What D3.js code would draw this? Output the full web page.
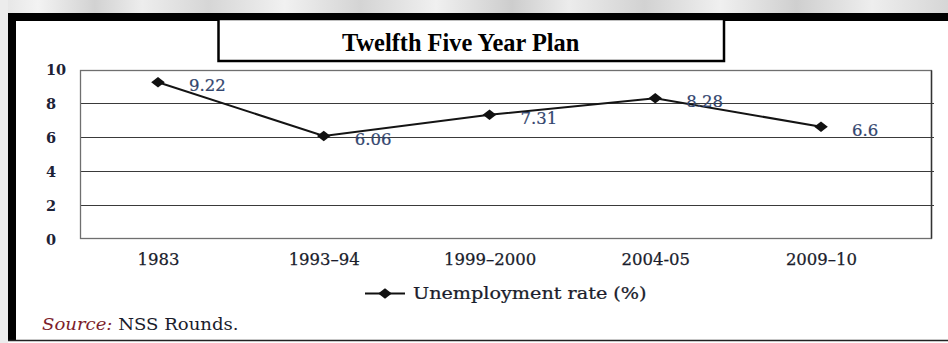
<!DOCTYPE html>
<html>
<head>
<meta charset="utf-8">
<script src="https://cdn.jsdelivr.net/npm/d3@7"></script>
<style>
  html, body { margin: 0; padding: 0; background: #fff; }
  svg { display: block; }
</style>
</head>
<body>
<svg id="chart" width="948" height="343"></svg>
<script>
// Survey rounds and unemployment rate (%)
const categories = ["1983", "1993–94", "1999–2000", "2004-05", "2009–10"];
const unemploymentRate = [9.22, 6.06, 7.31, 8.28, 6.6];
const yTicks = [0, 2, 4, 6, 8, 10];
const titleText = "Twelfth Five Year Plan";
const legendLabel = "Unemployment rate (%)";
const sourceLabel = "Source:";
const sourceText = " NSS Rounds.";

const svg = d3.select("#chart");
const W = 948, H = 343;

// Page decoration: grey scan strip on top / left
const defs = svg.append("defs");
const grad = defs.append("linearGradient").attr("id", "topStrip");
[[0, "#e4e4e4"], [0.04, "#f3f3f3"], [0.1, "#d2d2d2"], [0.15, "#ededed"], [0.22, "#d6d6d6"],
 [0.3, "#f1f1f1"], [0.38, "#d4d4d4"], [0.46, "#f0f0f0"], [0.54, "#cdcdcd"], [0.6, "#ececec"],
 [0.68, "#d2d2d2"], [0.76, "#f0f0f0"], [0.84, "#cfcfcf"], [0.92, "#eeeeee"], [1, "#d6d6d6"]]
  .forEach(([o, c]) => grad.append("stop").attr("offset", o).attr("stop-color", c));

svg.append("rect").attr("x", 0).attr("y", 0).attr("width", W).attr("height", 14)
  .attr("fill", "url(#topStrip)");
svg.append("rect").attr("x", 0).attr("y", 0).attr("width", 8).attr("height", H)
  .attr("fill", "#ececec");

// Heavy outer frame (top + left), thin bottom rule
svg.append("rect").attr("x", 8).attr("y", 13).attr("width", W - 8).attr("height", 8).attr("fill", "#000");
svg.append("rect").attr("x", 8).attr("y", 13).attr("width", 8).attr("height", 328).attr("fill", "#000");
svg.append("line").attr("x1", 8).attr("x2", W).attr("y1", 340.5).attr("y2", 340.5)
  .attr("stroke", "#222").attr("stroke-width", 1.6);

// Title box
svg.append("rect").attr("x", 218.5).attr("y", 19).attr("width", 505.5).attr("height", 42)
  .attr("fill", "#fff").attr("stroke", "#000").attr("stroke-width", 2.5);
svg.append("text").attr("x", 342).attr("y", 51)
  .attr("font-family", "'Liberation Serif', 'Times New Roman', serif")
  .attr("font-weight", "bold").attr("font-size", 24.4).attr("fill", "#000")
  .text(titleText);

// Scales
const plotLeft = 80, plotRight = 931;
const x = d3.scalePoint().domain(categories).range([158, 821]);
const y = d3.scaleLinear().domain([0, 10]).range([239, 69]);

// Gridlines
svg.append("g").selectAll("line").data(yTicks.filter(t => t > 0 && t < 10)).join("line")
  .attr("x1", plotLeft).attr("x2", plotRight + 3)
  .attr("y1", d => Math.round(y(d)) + 0.5).attr("y2", d => Math.round(y(d)) + 0.5)
  .attr("stroke", "#3a3a3a").attr("stroke-width", 1.1);

// Plot frame
svg.append("rect").attr("x", plotLeft + 0.5).attr("y", y(10) + 1.5)
  .attr("width", plotRight - plotLeft).attr("height", y(0) - y(10) - 2)
  .attr("fill", "none").attr("stroke", "#6f6f6f").attr("stroke-width", 1.3);
svg.append("line").attr("x1", plotRight + 0.5).attr("x2", plotRight + 0.5)
  .attr("y1", y(10) + 1.5).attr("y2", y(0) - 0.5).attr("stroke", "#333").attr("stroke-width", 1.4);

// Y axis labels
const yAxis = d3.axisLeft(y).tickValues(yTicks).tickSize(0).tickPadding(0);
const gy = svg.append("g").attr("transform", `translate(46,0)`).call(yAxis);
gy.select(".domain").remove();
gy.selectAll("text")
  .attr("text-anchor", "start").attr("x", 0).attr("dy", "0.36em")
  .attr("font-family", "'DejaVu Serif', serif").attr("font-weight", "bold")
  .attr("font-size", 14.5).attr("fill", "#1d2236");

// X axis labels
const xAxis = d3.axisBottom(x).tickSize(0).tickPadding(0);
const gx = svg.append("g").attr("transform", `translate(0,265)`).call(xAxis);
gx.select(".domain").remove();
gx.selectAll("text")
  .attr("y", 0).attr("dy", 0)
  .attr("font-family", "'DejaVu Serif', serif")
  .attr("font-size", 16.5).attr("fill", "#1a1d2c")
  .attr("stroke", "#1a1d2c").attr("stroke-width", 0.25);

// Series
const pts = categories.map((c, i) => ({ c, v: unemploymentRate[i] }));
const diamond = "M0,-5.2L6.8,0L0,5.2L-6.8,0Z";

svg.append("path").datum(pts)
  .attr("d", d3.line().x(d => x(d.c)).y(d => y(d.v)))
  .attr("fill", "none").attr("stroke", "#141414").attr("stroke-width", 2);

svg.append("g").selectAll("path").data(pts).join("path")
  .attr("transform", d => `translate(${x(d.c)},${y(d.v)})`)
  .attr("d", diamond).attr("fill", "#111");

svg.append("g").selectAll("text").data(pts).join("text")
  .attr("x", d => x(d.c) + 31).attr("y", d => y(d.v) + 9)
  .attr("font-family", "'DejaVu Serif', serif").attr("font-size", 16.5)
  .attr("fill", "#33466e").attr("stroke", "#33466e").attr("stroke-width", 0.2)
  .text(d => d.v);

// Legend
const lg = svg.append("g").attr("transform", "translate(365,293.5)");
lg.append("line").attr("x1", 0).attr("x2", 40).attr("stroke", "#111").attr("stroke-width", 2);
lg.append("path").attr("transform", "translate(20,0)").attr("d", diamond).attr("fill", "#111");
lg.append("text").attr("transform", "translate(48,5) scale(1.2,1)")
  .attr("font-family", "'DejaVu Serif', serif").attr("font-size", 16)
  .attr("fill", "#1a1d2c").attr("stroke", "#1a1d2c").attr("stroke-width", 0.25)
  .text(legendLabel);

// Source note
const src = svg.append("text").attr("transform", "translate(42,330) scale(1.13,1)")
  .attr("font-family", "'DejaVu Serif', serif").attr("font-size", 16);
src.append("tspan").attr("font-style", "italic").attr("fill", "#7d1e2c").text(sourceLabel);
src.append("tspan").attr("fill", "#1a1d2c").text(sourceText);
</script>
</body>
</html>
